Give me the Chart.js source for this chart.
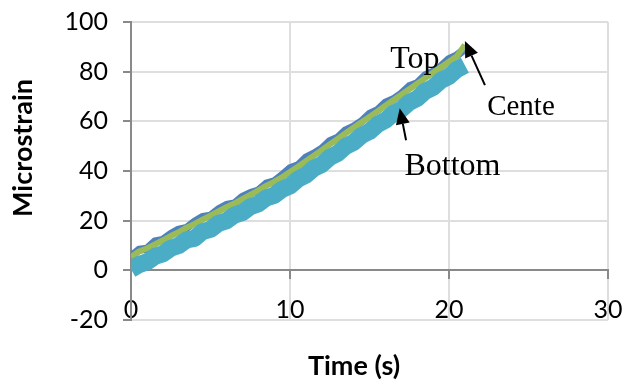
<!DOCTYPE html>
<html>
<head>
<meta charset="utf-8">
<script src="https://cdn.jsdelivr.net/npm/chart.js@4.4.1/dist/chart.umd.min.js"></script>
<style>
  html, body { margin: 0; padding: 0; background: #ffffff; }
</style>
</head>
<body>
<canvas id="strainChart" width="625" height="386"></canvas>
<script>
// gauge readings, one every half second
const timeS = [0, 0.5, 1, 1.5, 2, 2.5, 3, 3.5, 4, 4.5, 5, 5.5, 6, 6.5, 7, 7.5, 8, 8.5, 9, 9.5,
  10, 10.5, 11, 11.5, 12, 12.5, 13, 13.5, 14, 14.5, 15, 15.5, 16, 16.5, 17, 17.5, 18, 18.5,
  19, 19.5, 20, 20.5, 21];
const topStrain = [5.6, 8.3, 8.7, 11.6, 12.3, 14.6, 16.4, 17.1, 19.6, 21.5, 22.0, 24.6, 26.3, 26.9,
  29.6, 31.1, 32.1, 34.9, 35.8, 38.3, 41.1, 42.3, 45.4, 47.0, 49.0, 52.0, 53.4, 56.4, 57.9, 60.0,
  63.0, 64.5, 67.5, 68.9, 71.1, 74.1, 75.4, 78.5, 80.0, 82.2, 85.1, 86.6, 89.1];
const centerStrain = [5.3, 7.6, 8.8, 10.4, 12.1, 13.8, 15.3, 17.2, 18.7, 20.4, 22.0, 23.7, 25.4, 26.9,
  28.7, 30.4, 32.1, 34.0, 35.6, 37.5, 39.6, 41.7, 44.0, 46.2, 48.4, 50.7, 52.9, 55.2, 57.4, 59.6,
  61.8, 64.0, 66.3, 68.5, 70.7, 72.9, 75.1, 77.4, 79.6, 81.8, 84.0, 86.2, 90.8];
const bottomStrain = [0.4, 2.3, 3.4, 5.6, 6.6, 8.9, 10.0, 12.3, 12.9, 15.6, 16.5, 18.9, 19.9, 22.2,
  23.2, 25.6, 26.7, 29.1, 30.2, 32.6, 34.0, 36.7, 38.3, 41.1, 42.6, 45.5, 47.1, 49.9, 51.5, 54.3,
  55.9, 58.7, 60.4, 63.2, 64.8, 67.6, 69.2, 72.1, 73.7, 76.5, 78.1, 80.9, 82.6];

const xTicks = [0, 10, 20, 30];
const yTicks = [-20, 0, 20, 40, 60, 80, 100];

// callout labels and arrows, in data units (s, microstrain)
const notes = [
  { text: 'Top', t: 16.3, v: 81.5, size: 32 },
  { text: 'Cente', t: 22.4, v: 62.5, size: 29 },
  { text: 'Bottom', t: 17.2, v: 38.3, size: 32 }
];
const arrows = [
  { from: [22.26, 74.6], to: [21.0, 92.3] },
  { from: [17.3, 52.4], to: [16.9, 65.3] }
];

const AXIS_GREY = '#898989';
const GRID_GREY = '#dedede';
const TICK_FONT = { family: 'Lato', size: 25 };

function series(values) {
  return timeS.map((t, i) => ({ x: t, y: values[i] }));
}

const callouts = {
  id: 'callouts',
  afterDatasetsDraw(chart) {
    const { ctx, scales: { x, y } } = chart;
    ctx.save();
    ctx.fillStyle = '#000';
    ctx.strokeStyle = '#000';
    ctx.lineWidth = 2;
    arrows.forEach(a => {
      const x1 = x.getPixelForValue(a.from[0]), y1 = y.getPixelForValue(a.from[1]);
      const x2 = x.getPixelForValue(a.to[0]), y2 = y.getPixelForValue(a.to[1]);
      const ang = Math.atan2(y2 - y1, x2 - x1);
      const len = 16, half = 7;
      const bx = x2 - len * Math.cos(ang), by = y2 - len * Math.sin(ang);
      ctx.beginPath();
      ctx.moveTo(x1, y1);
      ctx.lineTo(bx, by);
      ctx.stroke();
      ctx.beginPath();
      ctx.moveTo(x2, y2);
      ctx.lineTo(bx + half * Math.sin(ang), by - half * Math.cos(ang));
      ctx.lineTo(bx - half * Math.sin(ang), by + half * Math.cos(ang));
      ctx.closePath();
      ctx.fill();
    });
    ctx.textBaseline = 'alphabetic';
    ctx.textAlign = 'left';
    notes.forEach(n => {
      ctx.font = n.size + 'px "Liberation Serif", "Times New Roman", serif';
      ctx.fillText(n.text, x.getPixelForValue(n.t), y.getPixelForValue(n.v));
    });
    ctx.restore();
  },
  afterDraw(chart) {
    const { ctx } = chart;
    ctx.save();
    ctx.fillStyle = '#000';
    ctx.font = 'bold 27px Lato';
    ctx.textAlign = 'center';
    ctx.textBaseline = 'middle';
    ctx.fillText('Time (s)', 354, 366);
    ctx.translate(23, 148);
    ctx.rotate(-Math.PI / 2);
    ctx.fillText('Microstrain', 0, 0);
    ctx.restore();
  }
};

new Chart(document.getElementById('strainChart'), {
  type: 'line',
  data: {
    datasets: [
      {
        label: 'Bottom',
        data: series(bottomStrain),
        borderColor: '#4BACC6',
        borderWidth: 17,
        order: 1
      },
      {
        label: 'Center',
        data: series(centerStrain),
        borderColor: '#9BBB59',
        borderWidth: 6,
        order: 2
      },
      {
        label: 'Top',
        data: series(topStrain),
        borderColor: '#4F81BD',
        borderWidth: 8,
        order: 3
      }
    ]
  },
  options: {
    responsive: false,
    animation: false,
    devicePixelRatio: 1,
    // the x axis sits on y = 0, so it takes no room of its own
    layout: { padding: { top: 22, right: 17, left: 0, bottom: 66 } },
    elements: {
      point: { radius: 0, hoverRadius: 0 },
      line: { tension: 0, borderJoinStyle: 'round', borderCapStyle: 'butt', fill: false }
    },
    datasets: { line: { clip: 0 } },
    plugins: {
      legend: { display: false },
      tooltip: { enabled: false }
    },
    scales: {
      x: {
        type: 'linear',
        position: { y: 0 },
        min: xTicks[0],
        max: xTicks[xTicks.length - 1],
        afterBuildTicks: s => { s.ticks = xTicks.map(v => ({ value: v })); },
        afterFit: s => {
          s.paddingLeft = 0;
          s.paddingRight = 0;
        },
        grid: { color: GRID_GREY, lineWidth: 2, tickColor: AXIS_GREY, tickLength: 8 },
        border: { color: AXIS_GREY, width: 2 },
        ticks: { color: '#000', font: TICK_FONT, padding: 17, maxRotation: 0 }
      },
      y: {
        type: 'linear',
        min: yTicks[0],
        max: yTicks[yTicks.length - 1],
        afterBuildTicks: s => { s.ticks = yTicks.map(v => ({ value: v })); },
        afterFit: s => {
          s.width = 131;
          s.paddingTop = 0;
          s.paddingBottom = 0;
        },
        grid: { color: GRID_GREY, lineWidth: 2, tickColor: AXIS_GREY, tickLength: 8 },
        border: { color: AXIS_GREY, width: 2 },
        ticks: { color: '#000', font: TICK_FONT, padding: 15 }
      }
    }
  },
  plugins: [callouts]
});
</script>
</body>
</html>
